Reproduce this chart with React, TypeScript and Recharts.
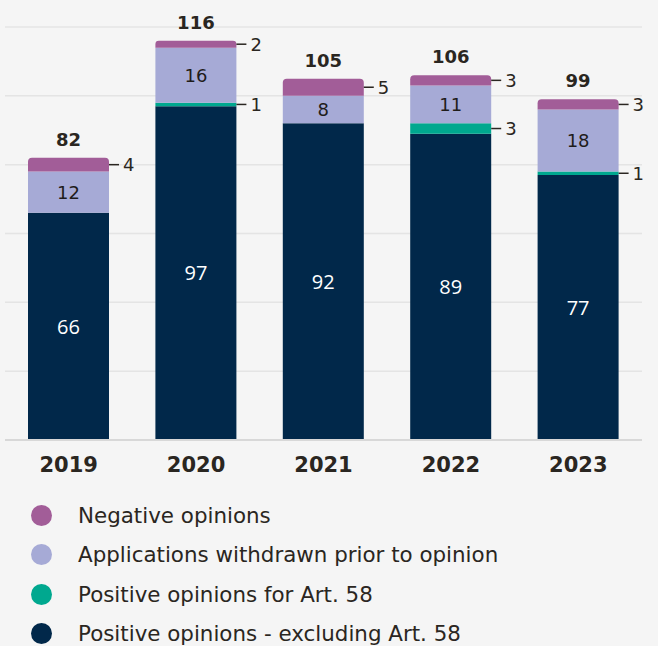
import { ComposedChart, Bar, XAxis, YAxis, CartesianGrid, LabelList } from 'recharts'

const years = ['2019', '2020', '2021', '2022', '2023']
const positiveExcl = [66, 97, 92, 89, 77]
const positiveArt58 = [0, 1, 0, 3, 1]
const withdrawn = [12, 16, 8, 11, 18]
const negative = [4, 2, 5, 3, 3]
const yTicks = [0, 20, 40, 60, 80, 100]

const legendItems = [
  { name: 'Negative opinions', color: '#a25d98' },
  { name: 'Applications withdrawn prior to opinion', color: '#a6aad6' },
  { name: 'Positive opinions for Art. 58', color: '#00a88f' },
  { name: 'Positive opinions - excluding Art. 58', color: '#01284a' },
]

const data = years.map((year, i) => ({
  year,
  positiveExcl: positiveExcl[i],
  positiveArt58: positiveArt58[i],
  withdrawn: withdrawn[i],
  negative: negative[i],
  total: positiveExcl[i] + positiveArt58[i] + withdrawn[i] + negative[i],
}))

const FONT = '"DejaVu Sans", Verdana, sans-serif'
const TEXT = '#2a2621'

const SideLabel = (props: any) => {
  const { x, y, width, height, value } = props
  if (!value) return null
  const cy = y + height / 2
  const x0 = x + width
  return (
    <g>
      <line x1={x0} x2={x0 + 10} y1={cy} y2={cy} stroke={TEXT} strokeWidth={1.5} />
      <text x={x0 + 14} y={cy} dy="0.36em" fontSize={18} fontFamily={FONT} fill={TEXT}>
        {value}
      </text>
    </g>
  )
}

const TotalLabel = (props: any) => {
  const { x, y, width, value } = props
  return (
    <text x={x + width / 2} y={y - 12} textAnchor="middle" fontSize={18} fontWeight="bold" fontFamily={FONT} fill={TEXT}>
      {value}
    </text>
  )
}

const InnerLabel = (color: string, font: string, size: number) => (props: any) => {
  const { x, y, width, height, value } = props
  return (
    <text x={x + width / 2} y={y + height / 2} dy="0.36em" textAnchor="middle" fontSize={size} fontFamily={font} fill={color}>
      {value}
    </text>
  )
}

const YearTick = (props: any) => {
  const { x, y, payload } = props
  return (
    <text x={x} y={y + 32} textAnchor="middle" fontSize={21} fontWeight="bold" fontFamily={FONT} fill={TEXT}>
      {payload.value}
    </text>
  )
}

export default function App() {
  return (
    <div style={{ position: 'absolute', left: 0, top: 0, width: 658, height: 646, background: '#f5f5f5', overflow: 'hidden' }}>
      <ComposedChart width={658} height={490} data={data} margin={{ top: 27, right: 16, left: 5, bottom: 0 }}>
        <CartesianGrid vertical={false} stroke="#e4e4e4" strokeWidth={1.5} />
        <YAxis hide domain={[0, 120]} ticks={yTicks} />
        <XAxis
          dataKey="year"
          height={50}
          tickSize={0}
          tickMargin={0}
          tickLine={false}
          axisLine={{ stroke: '#d8d8d8', strokeWidth: 2 }}
          tick={YearTick}
        />
        <Bar dataKey="positiveExcl" stackId="a" fill="#01284a" barSize={81} isAnimationActive={false}>
          <LabelList dataKey="positiveExcl" content={InnerLabel('#ffffff', '"Open Sans", sans-serif', 20)} />
        </Bar>
        <Bar dataKey="positiveArt58" stackId="a" fill="#00a88f" barSize={81} isAnimationActive={false}>
          <LabelList dataKey="positiveArt58" content={SideLabel} />
        </Bar>
        <Bar dataKey="withdrawn" stackId="a" fill="#a6aad6" barSize={81} isAnimationActive={false}>
          <LabelList dataKey="withdrawn" content={InnerLabel('#1f1c1a', FONT, 18)} />
        </Bar>
        <Bar dataKey="negative" stackId="a" fill="#a25d98" barSize={81} radius={[4, 4, 0, 0]} isAnimationActive={false}>
          <LabelList dataKey="negative" content={SideLabel} />
          <LabelList dataKey="total" content={TotalLabel} />
        </Bar>
      </ComposedChart>
      <div style={{ position: 'absolute', left: 0, top: 496, fontFamily: FONT, fontSize: 21.4, color: TEXT }}>
        {legendItems.map((item) => (
          <div key={item.name} style={{ height: 39.3, display: 'flex', alignItems: 'center' }}>
            <span
              style={{
                display: 'inline-block',
                width: 21,
                height: 21,
                borderRadius: '50%',
                background: item.color,
                marginLeft: 30.5,
                marginRight: 26.5,
              }}
            />
            <span>{item.name}</span>
          </div>
        ))}
      </div>
    </div>
  )
}
